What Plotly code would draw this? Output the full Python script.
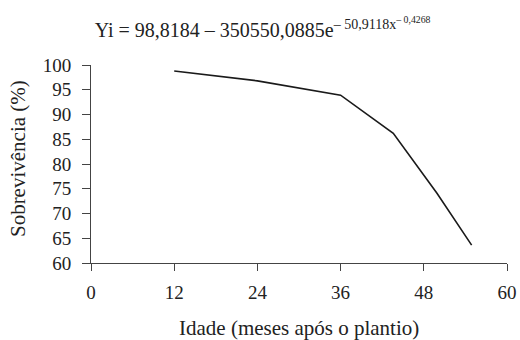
import plotly.graph_objects as go

idade = [12, 24, 36, 43.6, 49.9, 54.9]
sobrevivencia = [98.8, 96.8, 93.9, 86.2, 74.1, 63.6]
x_ticks = [0, 12, 24, 36, 48, 60]
y_ticks = [60, 65, 70, 75, 80, 85, 90, 95, 100]

FONT = "Liberation Serif"
TXT = "#222"
AX = "#444"

fig = go.Figure()
fig.add_trace(go.Scatter(x=idade, y=sobrevivencia, mode="lines",
                         line=dict(color="#1a1a1a", width=1.6), showlegend=False))

fig.update_layout(
    width=520, height=340,
    margin=dict(l=91, r=13, t=65, b=77),
    paper_bgcolor="white", plot_bgcolor="white",
    font=dict(family=FONT, size=19, color=TXT),
    title=dict(text="Yi = 98,8184 – 350550,0885e<sup>– 50,9118x<sup>– 0,4268</sup></sup>",
               x=0.505, xanchor="center", y=0.912, yanchor="middle",
               font=dict(family=FONT, size=20, color=TXT)),
    xaxis=dict(range=[0, 60], tickvals=x_ticks, ticks="outside", ticklen=7,
               tickcolor=AX, showline=True, linecolor=AX, linewidth=1,
               showgrid=False, zeroline=False, automargin=False,
               ticklabelstandoff=5),
    yaxis=dict(range=[60, 100], tickvals=y_ticks, ticks="outside", ticklen=8,
               tickcolor=AX, showline=True, linecolor=AX, linewidth=1,
               showgrid=False, zeroline=False, automargin=False,
               ticklabelstandoff=7),
    annotations=[
        dict(text="Idade (meses após o plantio)", xref="paper", yref="paper",
             x=0.5, y=-0.33, xanchor="center", yanchor="middle", showarrow=False,
             font=dict(family=FONT, size=21, color=TXT)),
        dict(text="Sobrevivência (%)", xref="paper", yref="paper",
             x=-0.1755, y=0.53, xanchor="center", yanchor="middle", showarrow=False,
             textangle=-90, font=dict(family=FONT, size=21, color=TXT)),
    ],
)

fig.write_html("out.html")
